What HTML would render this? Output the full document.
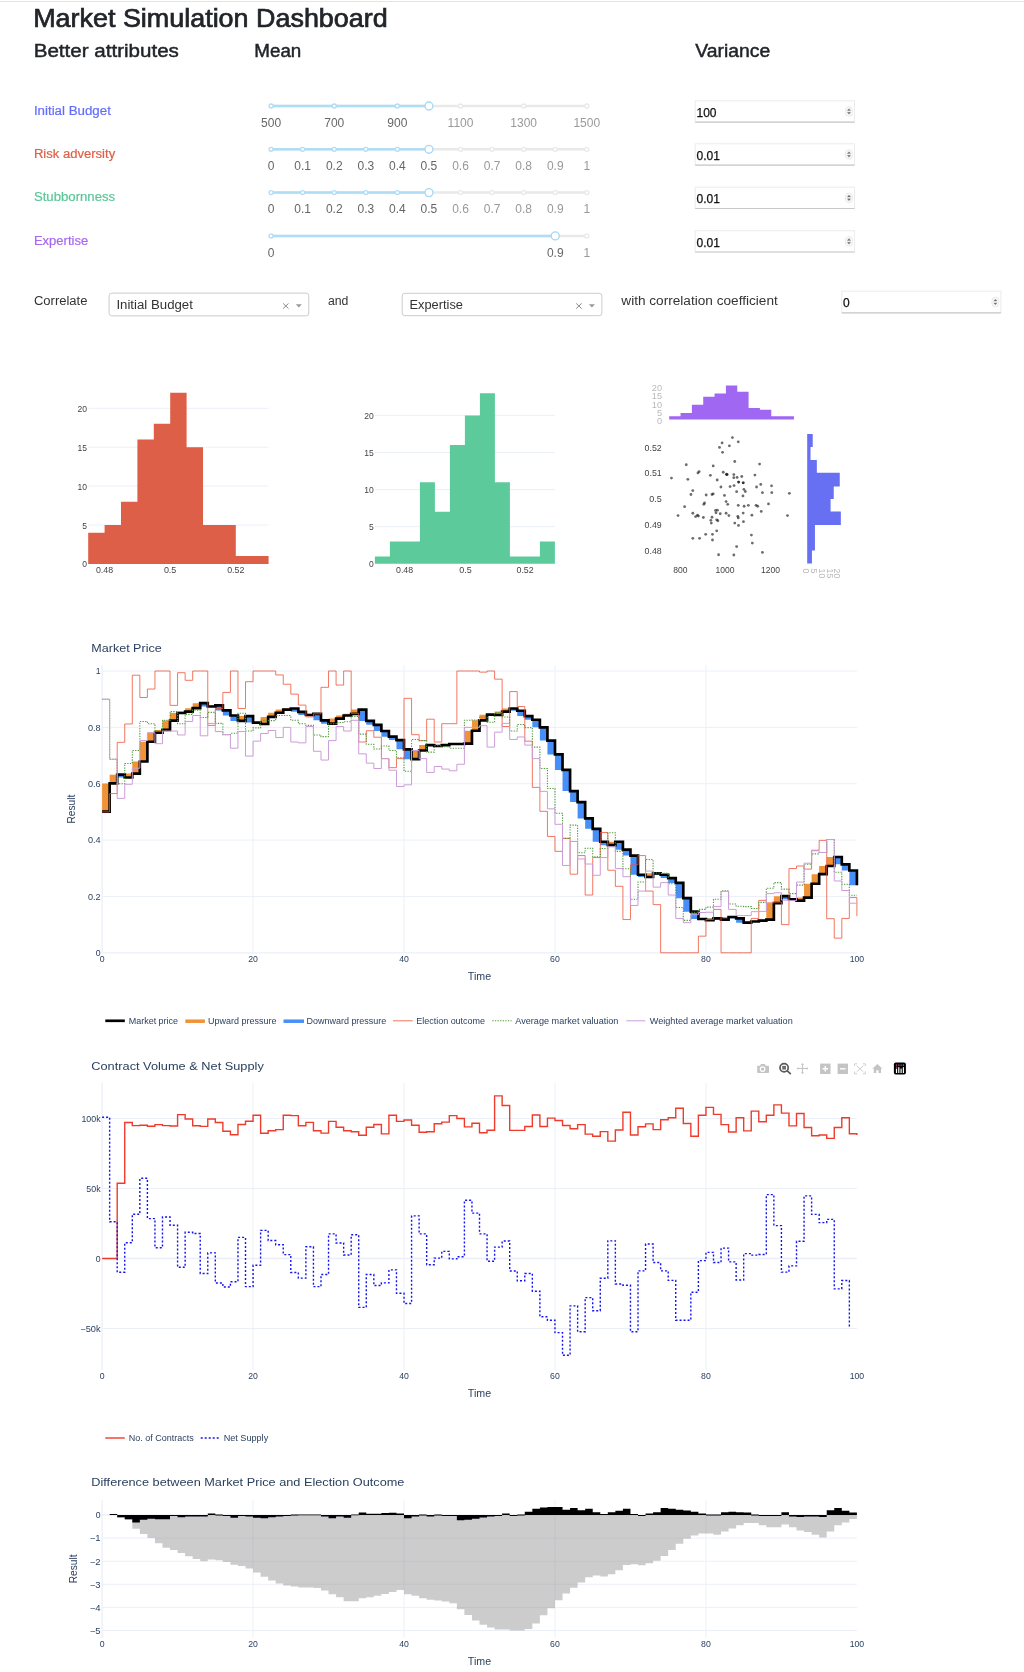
<!DOCTYPE html>
<html><head><meta charset="utf-8"><title>Market Simulation Dashboard</title>
<style>
html,body{margin:0;padding:0;background:#fff;}
body{width:1024px;height:1672px;overflow:hidden;font-family:"Liberation Sans",sans-serif;}
svg{display:block;will-change:transform;font-family:"Liberation Sans",sans-serif;}
</style></head>
<body>
<svg width="1024" height="1672" viewBox="0 0 1024 1672">
<line x1="0" y1="1.5" x2="1024" y2="1.5" stroke="#e4e4e4" stroke-width="1"/>
<text x="33.2" y="26.6" font-size="26" fill="#212529" textLength="354.5" lengthAdjust="spacingAndGlyphs" stroke="#212529" stroke-width="0.7">Market Simulation Dashboard</text>
<text x="33.7" y="56.5" font-size="18" fill="#212529" textLength="145.2" lengthAdjust="spacingAndGlyphs" stroke="#212529" stroke-width="0.45">Better attributes</text>
<text x="254.3" y="56.5" font-size="18" fill="#212529" textLength="47" lengthAdjust="spacingAndGlyphs" stroke="#212529" stroke-width="0.45">Mean</text>
<text x="695.2" y="56.5" font-size="18" fill="#212529" textLength="75" lengthAdjust="spacingAndGlyphs" stroke="#212529" stroke-width="0.45">Variance</text>
<text x="33.9" y="114.6" font-size="12" fill="#636efa" textLength="77" lengthAdjust="spacingAndGlyphs" stroke="#636efa" stroke-width="0.2">Initial Budget</text>
<text x="33.9" y="157.9" font-size="12" fill="#de5f47" textLength="81.3" lengthAdjust="spacingAndGlyphs" stroke="#de5f47" stroke-width="0.2">Risk adversity</text>
<text x="33.9" y="201.3" font-size="12" fill="#5bc799" textLength="81.3" lengthAdjust="spacingAndGlyphs" stroke="#5bc799" stroke-width="0.2">Stubbornness</text>
<text x="33.9" y="245" font-size="12" fill="#a868f0" textLength="54.3" lengthAdjust="spacingAndGlyphs" stroke="#a868f0" stroke-width="0.2">Expertise</text>
<line x1="271.1" y1="106" x2="586.8" y2="106" stroke="#e9e9e9" stroke-width="2.5"/>
<line x1="271.1" y1="106" x2="428.95" y2="106" stroke="#b0ddf6" stroke-width="2.5"/>
<circle cx="271.1" cy="106" r="2" fill="#fff" stroke="#b0ddf6" stroke-width="1.33"/>
<text x="271.1" y="126.7" font-size="12" fill="#666" text-anchor="middle">500</text>
<circle cx="334.24" cy="106" r="2" fill="#fff" stroke="#b0ddf6" stroke-width="1.33"/>
<text x="334.24" y="126.7" font-size="12" fill="#666" text-anchor="middle">700</text>
<circle cx="397.38" cy="106" r="2" fill="#fff" stroke="#b0ddf6" stroke-width="1.33"/>
<text x="397.38" y="126.7" font-size="12" fill="#666" text-anchor="middle">900</text>
<circle cx="460.52" cy="106" r="2" fill="#fff" stroke="#e9e9e9" stroke-width="1.33"/>
<text x="460.52" y="126.7" font-size="12" fill="#999" text-anchor="middle">1100</text>
<circle cx="523.66" cy="106" r="2" fill="#fff" stroke="#e9e9e9" stroke-width="1.33"/>
<text x="523.66" y="126.7" font-size="12" fill="#999" text-anchor="middle">1300</text>
<circle cx="586.8" cy="106" r="2" fill="#fff" stroke="#e9e9e9" stroke-width="1.33"/>
<text x="586.8" y="126.7" font-size="12" fill="#999" text-anchor="middle">1500</text>
<circle cx="428.95" cy="106" r="3.97" fill="#fff" stroke="#a6d9f4" stroke-width="1.33"/>
<line x1="271.1" y1="149.3" x2="586.8" y2="149.3" stroke="#e9e9e9" stroke-width="2.5"/>
<line x1="271.1" y1="149.3" x2="428.95" y2="149.3" stroke="#b0ddf6" stroke-width="2.5"/>
<circle cx="271.1" cy="149.3" r="2" fill="#fff" stroke="#b0ddf6" stroke-width="1.33"/>
<text x="271.1" y="170" font-size="12" fill="#666" text-anchor="middle">0</text>
<circle cx="302.67" cy="149.3" r="2" fill="#fff" stroke="#b0ddf6" stroke-width="1.33"/>
<text x="302.67" y="170" font-size="12" fill="#666" text-anchor="middle">0.1</text>
<circle cx="334.24" cy="149.3" r="2" fill="#fff" stroke="#b0ddf6" stroke-width="1.33"/>
<text x="334.24" y="170" font-size="12" fill="#666" text-anchor="middle">0.2</text>
<circle cx="365.81" cy="149.3" r="2" fill="#fff" stroke="#b0ddf6" stroke-width="1.33"/>
<text x="365.81" y="170" font-size="12" fill="#666" text-anchor="middle">0.3</text>
<circle cx="397.38" cy="149.3" r="2" fill="#fff" stroke="#b0ddf6" stroke-width="1.33"/>
<text x="397.38" y="170" font-size="12" fill="#666" text-anchor="middle">0.4</text>
<text x="428.95" y="170" font-size="12" fill="#666" text-anchor="middle">0.5</text>
<circle cx="460.52" cy="149.3" r="2" fill="#fff" stroke="#e9e9e9" stroke-width="1.33"/>
<text x="460.52" y="170" font-size="12" fill="#999" text-anchor="middle">0.6</text>
<circle cx="492.09" cy="149.3" r="2" fill="#fff" stroke="#e9e9e9" stroke-width="1.33"/>
<text x="492.09" y="170" font-size="12" fill="#999" text-anchor="middle">0.7</text>
<circle cx="523.66" cy="149.3" r="2" fill="#fff" stroke="#e9e9e9" stroke-width="1.33"/>
<text x="523.66" y="170" font-size="12" fill="#999" text-anchor="middle">0.8</text>
<circle cx="555.23" cy="149.3" r="2" fill="#fff" stroke="#e9e9e9" stroke-width="1.33"/>
<text x="555.23" y="170" font-size="12" fill="#999" text-anchor="middle">0.9</text>
<circle cx="586.8" cy="149.3" r="2" fill="#fff" stroke="#e9e9e9" stroke-width="1.33"/>
<text x="586.8" y="170" font-size="12" fill="#999" text-anchor="middle">1</text>
<circle cx="428.95" cy="149.3" r="3.97" fill="#fff" stroke="#a6d9f4" stroke-width="1.33"/>
<line x1="271.1" y1="192.6" x2="586.8" y2="192.6" stroke="#e9e9e9" stroke-width="2.5"/>
<line x1="271.1" y1="192.6" x2="428.95" y2="192.6" stroke="#b0ddf6" stroke-width="2.5"/>
<circle cx="271.1" cy="192.6" r="2" fill="#fff" stroke="#b0ddf6" stroke-width="1.33"/>
<text x="271.1" y="213.3" font-size="12" fill="#666" text-anchor="middle">0</text>
<circle cx="302.67" cy="192.6" r="2" fill="#fff" stroke="#b0ddf6" stroke-width="1.33"/>
<text x="302.67" y="213.3" font-size="12" fill="#666" text-anchor="middle">0.1</text>
<circle cx="334.24" cy="192.6" r="2" fill="#fff" stroke="#b0ddf6" stroke-width="1.33"/>
<text x="334.24" y="213.3" font-size="12" fill="#666" text-anchor="middle">0.2</text>
<circle cx="365.81" cy="192.6" r="2" fill="#fff" stroke="#b0ddf6" stroke-width="1.33"/>
<text x="365.81" y="213.3" font-size="12" fill="#666" text-anchor="middle">0.3</text>
<circle cx="397.38" cy="192.6" r="2" fill="#fff" stroke="#b0ddf6" stroke-width="1.33"/>
<text x="397.38" y="213.3" font-size="12" fill="#666" text-anchor="middle">0.4</text>
<text x="428.95" y="213.3" font-size="12" fill="#666" text-anchor="middle">0.5</text>
<circle cx="460.52" cy="192.6" r="2" fill="#fff" stroke="#e9e9e9" stroke-width="1.33"/>
<text x="460.52" y="213.3" font-size="12" fill="#999" text-anchor="middle">0.6</text>
<circle cx="492.09" cy="192.6" r="2" fill="#fff" stroke="#e9e9e9" stroke-width="1.33"/>
<text x="492.09" y="213.3" font-size="12" fill="#999" text-anchor="middle">0.7</text>
<circle cx="523.66" cy="192.6" r="2" fill="#fff" stroke="#e9e9e9" stroke-width="1.33"/>
<text x="523.66" y="213.3" font-size="12" fill="#999" text-anchor="middle">0.8</text>
<circle cx="555.23" cy="192.6" r="2" fill="#fff" stroke="#e9e9e9" stroke-width="1.33"/>
<text x="555.23" y="213.3" font-size="12" fill="#999" text-anchor="middle">0.9</text>
<circle cx="586.8" cy="192.6" r="2" fill="#fff" stroke="#e9e9e9" stroke-width="1.33"/>
<text x="586.8" y="213.3" font-size="12" fill="#999" text-anchor="middle">1</text>
<circle cx="428.95" cy="192.6" r="3.97" fill="#fff" stroke="#a6d9f4" stroke-width="1.33"/>
<line x1="271.1" y1="235.9" x2="586.8" y2="235.9" stroke="#e9e9e9" stroke-width="2.5"/>
<line x1="271.1" y1="235.9" x2="555.23" y2="235.9" stroke="#b0ddf6" stroke-width="2.5"/>
<circle cx="271.1" cy="235.9" r="2" fill="#fff" stroke="#b0ddf6" stroke-width="1.33"/>
<text x="271.1" y="256.6" font-size="12" fill="#666" text-anchor="middle">0</text>
<text x="555.23" y="256.6" font-size="12" fill="#666" text-anchor="middle">0.9</text>
<circle cx="586.8" cy="235.9" r="2" fill="#fff" stroke="#e9e9e9" stroke-width="1.33"/>
<text x="586.8" y="256.6" font-size="12" fill="#999" text-anchor="middle">1</text>
<circle cx="555.23" cy="235.9" r="3.97" fill="#fff" stroke="#a6d9f4" stroke-width="1.33"/>
<rect x="695.2" y="100.8" width="159.3" height="21.3" fill="#fff" stroke="#ececec" stroke-width="1"/>
<line x1="695.2" y1="122.1" x2="854.5" y2="122.1" stroke="#c9c9c9" stroke-width="1.2"/>
<text x="696.5" y="116.8" font-size="12" fill="#111" stroke="#111" stroke-width="0.25">100</text>
<rect x="845.4" y="106.55" width="7.2" height="9.8" rx="3.6" fill="#f6f6f6" stroke="#e2e2e2" stroke-width="0.6"/>
<path d="M847.4 110.55 L849 108.65 L850.6 110.55 Z M847.4 112.35 L849 114.25 L850.6 112.35 Z" fill="#707070" stroke="#707070" stroke-width="0.3"/>
<rect x="695.2" y="143.8" width="159.3" height="21.3" fill="#fff" stroke="#ececec" stroke-width="1"/>
<line x1="695.2" y1="165.1" x2="854.5" y2="165.1" stroke="#c9c9c9" stroke-width="1.2"/>
<text x="696.5" y="159.8" font-size="12" fill="#111" stroke="#111" stroke-width="0.25">0.01</text>
<rect x="845.4" y="149.55" width="7.2" height="9.8" rx="3.6" fill="#f6f6f6" stroke="#e2e2e2" stroke-width="0.6"/>
<path d="M847.4 153.55 L849 151.65 L850.6 153.55 Z M847.4 155.35 L849 157.25 L850.6 155.35 Z" fill="#707070" stroke="#707070" stroke-width="0.3"/>
<rect x="695.2" y="187.2" width="159.3" height="21.3" fill="#fff" stroke="#ececec" stroke-width="1"/>
<line x1="695.2" y1="208.5" x2="854.5" y2="208.5" stroke="#c9c9c9" stroke-width="1.2"/>
<text x="696.5" y="203.2" font-size="12" fill="#111" stroke="#111" stroke-width="0.25">0.01</text>
<rect x="845.4" y="192.95" width="7.2" height="9.8" rx="3.6" fill="#f6f6f6" stroke="#e2e2e2" stroke-width="0.6"/>
<path d="M847.4 196.95 L849 195.05 L850.6 196.95 Z M847.4 198.75 L849 200.65 L850.6 198.75 Z" fill="#707070" stroke="#707070" stroke-width="0.3"/>
<rect x="695.2" y="230.7" width="159.3" height="21.3" fill="#fff" stroke="#ececec" stroke-width="1"/>
<line x1="695.2" y1="252" x2="854.5" y2="252" stroke="#c9c9c9" stroke-width="1.2"/>
<text x="696.5" y="246.7" font-size="12" fill="#111" stroke="#111" stroke-width="0.25">0.01</text>
<rect x="845.4" y="236.45" width="7.2" height="9.8" rx="3.6" fill="#f6f6f6" stroke="#e2e2e2" stroke-width="0.6"/>
<path d="M847.4 240.45 L849 238.55 L850.6 240.45 Z M847.4 242.25 L849 244.15 L850.6 242.25 Z" fill="#707070" stroke="#707070" stroke-width="0.3"/>
<text x="33.9" y="305.3" font-size="12" fill="#333" textLength="53.6" lengthAdjust="spacingAndGlyphs">Correlate</text>
<text x="327.9" y="305.3" font-size="12" fill="#333" textLength="20.5" lengthAdjust="spacingAndGlyphs">and</text>
<text x="621.3" y="305.3" font-size="12" fill="#333" textLength="156.5" lengthAdjust="spacingAndGlyphs">with correlation coefficient</text>
<rect x="109.1" y="293.1" width="199.7" height="22.8" rx="2.7" fill="#fff" stroke="#cccccc" stroke-width="1"/>
<text x="116.4" y="308.9" font-size="12" fill="#333" textLength="76.5" lengthAdjust="spacingAndGlyphs">Initial Budget</text>
<path d="M283.1 303.4 L288.5 308.6 M288.5 303.4 L283.1 308.6" stroke="#8a8a8a" stroke-width="1" fill="none"/>
<path d="M295.8 304.2 L301.8 304.2 L298.8 307.4 Z" fill="#999"/>
<rect x="402.2" y="293.3" width="199.7" height="22.4" rx="2.7" fill="#fff" stroke="#cccccc" stroke-width="1"/>
<text x="409.5" y="309.1" font-size="12" fill="#333" textLength="53.5" lengthAdjust="spacingAndGlyphs">Expertise</text>
<path d="M576.2 303.4 L581.6 308.6 M581.6 303.4 L576.2 308.6" stroke="#8a8a8a" stroke-width="1" fill="none"/>
<path d="M588.9 304.2 L594.9 304.2 L591.9 307.4 Z" fill="#999"/>
<rect x="841.8" y="291.2" width="159.1" height="21.6" fill="#fff" stroke="#ececec" stroke-width="1"/>
<line x1="841.8" y1="312.8" x2="1000.9" y2="312.8" stroke="#c9c9c9" stroke-width="1.2"/>
<text x="843.1" y="307.2" font-size="12" fill="#111" stroke="#111" stroke-width="0.25">0</text>
<rect x="991.8" y="297.1" width="7.2" height="9.8" rx="3.6" fill="#f6f6f6" stroke="#e2e2e2" stroke-width="0.6"/>
<path d="M993.8 301.1 L995.4 299.2 L997 301.1 Z M993.8 302.9 L995.4 304.8 L997 302.9 Z" fill="#707070" stroke="#707070" stroke-width="0.3"/>
<line x1="88.2" y1="525" x2="268.6" y2="525" stroke="#ebf0f8" stroke-width="1"/>
<line x1="88.2" y1="486.1" x2="268.6" y2="486.1" stroke="#ebf0f8" stroke-width="1"/>
<line x1="88.2" y1="447.2" x2="268.6" y2="447.2" stroke="#ebf0f8" stroke-width="1"/>
<line x1="88.2" y1="408.3" x2="268.6" y2="408.3" stroke="#ebf0f8" stroke-width="1"/>
<path d="M88.2 563.9 V532.78 H104.6 V525 H121 V501.66 H137.4 V439.42 H153.8 V423.86 H170.2 V392.74 H186.6 V447.2 H203 V525 H219.4 V525 H235.8 V556.12 H252.2 V556.12 H268.6 V563.9 Z" fill="#de5f47"/>
<text x="87" y="567.4" font-size="9" fill="#444" text-anchor="end" textLength="4.75" lengthAdjust="spacingAndGlyphs">0</text>
<text x="87" y="528.5" font-size="9" fill="#444" text-anchor="end" textLength="4.75" lengthAdjust="spacingAndGlyphs">5</text>
<text x="87" y="489.6" font-size="9" fill="#444" text-anchor="end" textLength="9.51" lengthAdjust="spacingAndGlyphs">10</text>
<text x="87" y="450.7" font-size="9" fill="#444" text-anchor="end" textLength="9.51" lengthAdjust="spacingAndGlyphs">15</text>
<text x="87" y="411.8" font-size="9" fill="#444" text-anchor="end" textLength="9.51" lengthAdjust="spacingAndGlyphs">20</text>
<text x="104.5" y="573" font-size="9" fill="#444" text-anchor="middle" textLength="17.2" lengthAdjust="spacingAndGlyphs">0.48</text>
<text x="170.1" y="573" font-size="9" fill="#444" text-anchor="middle" textLength="12.45" lengthAdjust="spacingAndGlyphs">0.5</text>
<text x="235.8" y="573" font-size="9" fill="#444" text-anchor="middle" textLength="17.2" lengthAdjust="spacingAndGlyphs">0.52</text>
<line x1="374.9" y1="526.7" x2="554.9" y2="526.7" stroke="#ebf0f8" stroke-width="1"/>
<line x1="374.9" y1="489.6" x2="554.9" y2="489.6" stroke="#ebf0f8" stroke-width="1"/>
<line x1="374.9" y1="452.5" x2="554.9" y2="452.5" stroke="#ebf0f8" stroke-width="1"/>
<line x1="374.9" y1="415.4" x2="554.9" y2="415.4" stroke="#ebf0f8" stroke-width="1"/>
<path d="M374.9 563.8 V556.38 H389.9 V541.54 H404.9 V541.54 H419.9 V482.18 H434.9 V511.86 H449.9 V445.08 H464.9 V415.4 H479.9 V393.14 H494.9 V482.18 H509.9 V556.38 H524.9 V556.38 H539.9 V541.54 H554.9 V563.8 Z" fill="#5dca9c"/>
<text x="373.8" y="567.3" font-size="9" fill="#444" text-anchor="end" textLength="4.75" lengthAdjust="spacingAndGlyphs">0</text>
<text x="373.8" y="530.2" font-size="9" fill="#444" text-anchor="end" textLength="4.75" lengthAdjust="spacingAndGlyphs">5</text>
<text x="373.8" y="493.1" font-size="9" fill="#444" text-anchor="end" textLength="9.51" lengthAdjust="spacingAndGlyphs">10</text>
<text x="373.8" y="456" font-size="9" fill="#444" text-anchor="end" textLength="9.51" lengthAdjust="spacingAndGlyphs">15</text>
<text x="373.8" y="418.9" font-size="9" fill="#444" text-anchor="end" textLength="9.51" lengthAdjust="spacingAndGlyphs">20</text>
<text x="404.6" y="573" font-size="9" fill="#444" text-anchor="middle" textLength="17.2" lengthAdjust="spacingAndGlyphs">0.48</text>
<text x="465.4" y="573" font-size="9" fill="#444" text-anchor="middle" textLength="12.45" lengthAdjust="spacingAndGlyphs">0.5</text>
<text x="525.1" y="573" font-size="9" fill="#444" text-anchor="middle" textLength="17.2" lengthAdjust="spacingAndGlyphs">0.52</text>
<path d="M669.2 419.4 V416.16 H680.54 V412.92 H691.88 V404.82 H703.22 V396.72 H714.56 V393.48 H725.9 V385.38 H737.24 V391.86 H748.58 V408.06 H759.92 V409.68 H771.26 V416.16 H782.6 V416.16 H793.94 V419.4 Z" fill="#a068f2"/>
<text x="662" y="423.7" font-size="9.2" fill="#bababa" text-anchor="end">0</text>
<text x="662" y="415.6" font-size="9.2" fill="#bababa" text-anchor="end">5</text>
<text x="662" y="407.5" font-size="9.2" fill="#bababa" text-anchor="end">10</text>
<text x="662" y="399.4" font-size="9.2" fill="#bababa" text-anchor="end">15</text>
<text x="662" y="391.3" font-size="9.2" fill="#bababa" text-anchor="end">20</text>
<path d="M807.2 434.1 H812.73 V447 H810.52 V459.9 H816.84 V472.8 H839.75 V486.5 H833.74 V499 H830.58 V511.6 H840.85 V525 H814.94 V537.7 H814.94 V550.4 H811.94 V563.6 H807.2 Z" fill="#676ff2"/>
<text transform="translate(802.8,568.6) rotate(90)" font-size="8.7" fill="#b9b9b9">0</text>
<text transform="translate(810.7,568.6) rotate(90)" font-size="8.7" fill="#b9b9b9">5</text>
<text transform="translate(818.6,568.6) rotate(90)" font-size="8.7" fill="#b9b9b9">10</text>
<text transform="translate(826.5,568.6) rotate(90)" font-size="8.7" fill="#b9b9b9">15</text>
<text transform="translate(834.4,568.6) rotate(90)" font-size="8.7" fill="#b9b9b9">20</text>
<circle cx="732.41" cy="437.57" r="1.4" fill="#111" fill-opacity="0.62"/>
<circle cx="738.27" cy="441.79" r="1.4" fill="#111" fill-opacity="0.62"/>
<circle cx="722.1" cy="442.96" r="1.4" fill="#111" fill-opacity="0.62"/>
<circle cx="719.52" cy="447.42" r="1.4" fill="#111" fill-opacity="0.62"/>
<circle cx="729.37" cy="445.78" r="1.4" fill="#111" fill-opacity="0.62"/>
<circle cx="722.57" cy="452.34" r="1.4" fill="#111" fill-opacity="0.62"/>
<circle cx="734.76" cy="461.48" r="1.4" fill="#111" fill-opacity="0.62"/>
<circle cx="686.25" cy="464.76" r="1.4" fill="#111" fill-opacity="0.62"/>
<circle cx="713.2" cy="465.93" r="1.4" fill="#111" fill-opacity="0.62"/>
<circle cx="759.6" cy="464.06" r="1.4" fill="#111" fill-opacity="0.62"/>
<circle cx="671.48" cy="478.12" r="1.4" fill="#111" fill-opacity="0.62"/>
<circle cx="687.89" cy="479.29" r="1.4" fill="#111" fill-opacity="0.62"/>
<circle cx="697.96" cy="472.96" r="1.4" fill="#111" fill-opacity="0.62"/>
<circle cx="699.14" cy="471.55" r="1.4" fill="#111" fill-opacity="0.62"/>
<circle cx="710.38" cy="475.3" r="1.4" fill="#111" fill-opacity="0.62"/>
<circle cx="717.18" cy="479.99" r="1.4" fill="#111" fill-opacity="0.62"/>
<circle cx="723.27" cy="472.26" r="1.4" fill="#111" fill-opacity="0.62"/>
<circle cx="726.55" cy="474.13" r="1.4" fill="#111" fill-opacity="0.62"/>
<circle cx="727.26" cy="474.6" r="1.4" fill="#111" fill-opacity="0.62"/>
<circle cx="733.82" cy="474.6" r="1.4" fill="#111" fill-opacity="0.62"/>
<circle cx="733.82" cy="477.65" r="1.4" fill="#111" fill-opacity="0.62"/>
<circle cx="737.1" cy="477.41" r="1.4" fill="#111" fill-opacity="0.62"/>
<circle cx="741.79" cy="476.48" r="1.4" fill="#111" fill-opacity="0.62"/>
<circle cx="754.91" cy="475.07" r="1.4" fill="#111" fill-opacity="0.62"/>
<circle cx="738.74" cy="482.1" r="1.4" fill="#111" fill-opacity="0.62"/>
<circle cx="743.19" cy="482.8" r="1.4" fill="#111" fill-opacity="0.62"/>
<circle cx="720.93" cy="487.02" r="1.4" fill="#111" fill-opacity="0.62"/>
<circle cx="730.07" cy="486.55" r="1.4" fill="#111" fill-opacity="0.62"/>
<circle cx="734.05" cy="485.62" r="1.4" fill="#111" fill-opacity="0.62"/>
<circle cx="760.77" cy="484.44" r="1.4" fill="#111" fill-opacity="0.62"/>
<circle cx="756.55" cy="487.02" r="1.4" fill="#111" fill-opacity="0.62"/>
<circle cx="771.55" cy="485.85" r="1.4" fill="#111" fill-opacity="0.62"/>
<circle cx="692.81" cy="490.54" r="1.4" fill="#111" fill-opacity="0.62"/>
<circle cx="690.93" cy="494.52" r="1.4" fill="#111" fill-opacity="0.62"/>
<circle cx="706.17" cy="494.99" r="1.4" fill="#111" fill-opacity="0.62"/>
<circle cx="712.02" cy="494.52" r="1.4" fill="#111" fill-opacity="0.62"/>
<circle cx="713.2" cy="493.82" r="1.4" fill="#111" fill-opacity="0.62"/>
<circle cx="724.45" cy="495.46" r="1.4" fill="#111" fill-opacity="0.62"/>
<circle cx="736.63" cy="491.71" r="1.4" fill="#111" fill-opacity="0.62"/>
<circle cx="743.9" cy="489.37" r="1.4" fill="#111" fill-opacity="0.62"/>
<circle cx="745.3" cy="491.48" r="1.4" fill="#111" fill-opacity="0.62"/>
<circle cx="742.96" cy="495.93" r="1.4" fill="#111" fill-opacity="0.62"/>
<circle cx="762.41" cy="492.65" r="1.4" fill="#111" fill-opacity="0.62"/>
<circle cx="771.79" cy="492.65" r="1.4" fill="#111" fill-opacity="0.62"/>
<circle cx="789.36" cy="493.35" r="1.4" fill="#111" fill-opacity="0.62"/>
<circle cx="684.61" cy="506.71" r="1.4" fill="#111" fill-opacity="0.62"/>
<circle cx="703.82" cy="504.36" r="1.4" fill="#111" fill-opacity="0.62"/>
<circle cx="704.53" cy="502.96" r="1.4" fill="#111" fill-opacity="0.62"/>
<circle cx="726.09" cy="501.55" r="1.4" fill="#111" fill-opacity="0.62"/>
<circle cx="727.73" cy="504.36" r="1.4" fill="#111" fill-opacity="0.62"/>
<circle cx="738.27" cy="505.3" r="1.4" fill="#111" fill-opacity="0.62"/>
<circle cx="744.13" cy="506.24" r="1.4" fill="#111" fill-opacity="0.62"/>
<circle cx="748.35" cy="505.3" r="1.4" fill="#111" fill-opacity="0.62"/>
<circle cx="756.08" cy="505.3" r="1.4" fill="#111" fill-opacity="0.62"/>
<circle cx="757.72" cy="506.24" r="1.4" fill="#111" fill-opacity="0.62"/>
<circle cx="768.5" cy="503.9" r="1.4" fill="#111" fill-opacity="0.62"/>
<circle cx="678.04" cy="515.61" r="1.4" fill="#111" fill-opacity="0.62"/>
<circle cx="692.81" cy="513.27" r="1.4" fill="#111" fill-opacity="0.62"/>
<circle cx="695.62" cy="516.55" r="1.4" fill="#111" fill-opacity="0.62"/>
<circle cx="697.49" cy="515.15" r="1.4" fill="#111" fill-opacity="0.62"/>
<circle cx="698.43" cy="516.08" r="1.4" fill="#111" fill-opacity="0.62"/>
<circle cx="703.35" cy="517.49" r="1.4" fill="#111" fill-opacity="0.62"/>
<circle cx="712.02" cy="517.25" r="1.4" fill="#111" fill-opacity="0.62"/>
<circle cx="715.54" cy="510.46" r="1.4" fill="#111" fill-opacity="0.62"/>
<circle cx="717.42" cy="510.22" r="1.4" fill="#111" fill-opacity="0.62"/>
<circle cx="716.01" cy="512.8" r="1.4" fill="#111" fill-opacity="0.62"/>
<circle cx="720.23" cy="513.74" r="1.4" fill="#111" fill-opacity="0.62"/>
<circle cx="726.09" cy="513.27" r="1.4" fill="#111" fill-opacity="0.62"/>
<circle cx="728.9" cy="515.61" r="1.4" fill="#111" fill-opacity="0.62"/>
<circle cx="737.8" cy="516.32" r="1.4" fill="#111" fill-opacity="0.62"/>
<circle cx="738.27" cy="517.96" r="1.4" fill="#111" fill-opacity="0.62"/>
<circle cx="743.19" cy="513.04" r="1.4" fill="#111" fill-opacity="0.62"/>
<circle cx="751.87" cy="515.15" r="1.4" fill="#111" fill-opacity="0.62"/>
<circle cx="761.24" cy="511.4" r="1.4" fill="#111" fill-opacity="0.62"/>
<circle cx="787.49" cy="515.61" r="1.4" fill="#111" fill-opacity="0.62"/>
<circle cx="710.85" cy="520.3" r="1.4" fill="#111" fill-opacity="0.62"/>
<circle cx="711.32" cy="523.11" r="1.4" fill="#111" fill-opacity="0.62"/>
<circle cx="716.71" cy="519.83" r="1.4" fill="#111" fill-opacity="0.62"/>
<circle cx="717.88" cy="520.77" r="1.4" fill="#111" fill-opacity="0.62"/>
<circle cx="734.76" cy="523.11" r="1.4" fill="#111" fill-opacity="0.62"/>
<circle cx="738.51" cy="525.46" r="1.4" fill="#111" fill-opacity="0.62"/>
<circle cx="743.43" cy="521.71" r="1.4" fill="#111" fill-opacity="0.62"/>
<circle cx="716.71" cy="530.85" r="1.4" fill="#111" fill-opacity="0.62"/>
<circle cx="705.7" cy="534.36" r="1.4" fill="#111" fill-opacity="0.62"/>
<circle cx="712.49" cy="534.36" r="1.4" fill="#111" fill-opacity="0.62"/>
<circle cx="692.81" cy="538.35" r="1.4" fill="#111" fill-opacity="0.62"/>
<circle cx="699.6" cy="538.35" r="1.4" fill="#111" fill-opacity="0.62"/>
<circle cx="712.49" cy="539.99" r="1.4" fill="#111" fill-opacity="0.62"/>
<circle cx="751.4" cy="535.07" r="1.4" fill="#111" fill-opacity="0.62"/>
<circle cx="752.33" cy="543.03" r="1.4" fill="#111" fill-opacity="0.62"/>
<circle cx="736.63" cy="546.55" r="1.4" fill="#111" fill-opacity="0.62"/>
<circle cx="718.59" cy="554.75" r="1.4" fill="#111" fill-opacity="0.62"/>
<circle cx="733.82" cy="554.99" r="1.4" fill="#111" fill-opacity="0.62"/>
<circle cx="762.41" cy="552.41" r="1.4" fill="#111" fill-opacity="0.62"/>
<circle cx="726.55" cy="474.6" r="1.4" fill="#111" fill-opacity="0.62"/>
<circle cx="738.51" cy="482.1" r="1.4" fill="#111" fill-opacity="0.62"/>
<circle cx="743.19" cy="482.8" r="1.4" fill="#111" fill-opacity="0.62"/>
<text x="661.8" y="450.9" font-size="8.6" fill="#444" text-anchor="end" textLength="17.2" lengthAdjust="spacingAndGlyphs">0.52</text>
<text x="661.8" y="476.3" font-size="8.6" fill="#444" text-anchor="end" textLength="17.2" lengthAdjust="spacingAndGlyphs">0.51</text>
<text x="661.8" y="502" font-size="8.6" fill="#444" text-anchor="end" textLength="12.45" lengthAdjust="spacingAndGlyphs">0.5</text>
<text x="661.8" y="527.8" font-size="8.6" fill="#444" text-anchor="end" textLength="17.2" lengthAdjust="spacingAndGlyphs">0.49</text>
<text x="661.8" y="554.1" font-size="8.6" fill="#444" text-anchor="end" textLength="17.2" lengthAdjust="spacingAndGlyphs">0.48</text>
<text x="680.4" y="573" font-size="8.6" fill="#444" text-anchor="middle" textLength="14.26" lengthAdjust="spacingAndGlyphs">800</text>
<text x="724.9" y="573" font-size="8.6" fill="#444" text-anchor="middle" textLength="19.01" lengthAdjust="spacingAndGlyphs">1000</text>
<text x="770.6" y="573" font-size="8.6" fill="#444" text-anchor="middle" textLength="19.01" lengthAdjust="spacingAndGlyphs">1200</text>
<line x1="253.06" y1="665.4" x2="253.06" y2="952.8" stroke="#ebf0f8" stroke-width="1"/>
<line x1="404.02" y1="665.4" x2="404.02" y2="952.8" stroke="#ebf0f8" stroke-width="1"/>
<line x1="554.98" y1="665.4" x2="554.98" y2="952.8" stroke="#ebf0f8" stroke-width="1"/>
<line x1="705.94" y1="665.4" x2="705.94" y2="952.8" stroke="#ebf0f8" stroke-width="1"/>
<line x1="102.1" y1="952.8" x2="856.9" y2="952.8" stroke="#ebf0f8" stroke-width="1.33"/>
<line x1="102.1" y1="896.44" x2="856.9" y2="896.44" stroke="#ebf0f8" stroke-width="1"/>
<line x1="102.1" y1="840.08" x2="856.9" y2="840.08" stroke="#ebf0f8" stroke-width="1"/>
<line x1="102.1" y1="783.72" x2="856.9" y2="783.72" stroke="#ebf0f8" stroke-width="1"/>
<line x1="102.1" y1="727.36" x2="856.9" y2="727.36" stroke="#ebf0f8" stroke-width="1"/>
<line x1="102.1" y1="671" x2="856.9" y2="671" stroke="#ebf0f8" stroke-width="1"/>
<line x1="102.1" y1="665.4" x2="102.1" y2="952.8" stroke="#ebf0f8" stroke-width="1.33"/>
<clipPath id="c1"><rect x="101" y="660" width="758" height="296"/></clipPath>
<g clip-path="url(#c1)">
<path d="M102.1 783.44 H109.65 V811.62 H102.1 Z M109.65 774.7 H117.2 V783.44 H109.65 Z M124.74 773.58 H132.29 V777.52 H124.74 Z M132.29 761.46 H139.84 V773.58 H132.29 Z M139.84 741.73 H147.39 V761.46 H139.84 Z M147.39 732.71 H154.94 V741.73 H147.39 Z M154.94 729.9 H162.48 V732.71 H154.94 Z M162.48 720.6 H170.03 V729.9 H162.48 Z M170.03 712.99 H177.58 V720.6 H170.03 Z M177.58 711.58 H185.13 V712.99 H177.58 Z M185.13 708.2 H192.68 V711.58 H185.13 Z M192.68 703.13 H200.22 V708.2 H192.68 Z M207.77 705.38 H215.32 V706.51 H207.77 Z M237.96 716.09 H245.51 V720.88 H237.96 Z M260.61 716.93 H268.16 V723.98 H260.61 Z M268.16 712.71 H275.7 V716.93 H268.16 Z M275.7 709.61 H283.25 V712.71 H275.7 Z M283.25 708.48 H290.8 V709.61 H283.25 Z M305.9 713.83 H313.44 V714.96 H305.9 Z M328.54 718.62 H336.09 V723.7 H328.54 Z M336.09 715.52 H343.64 V718.62 H336.09 Z M343.64 713.83 H351.18 V715.52 H343.64 Z M351.18 709.61 H358.73 V713.83 H351.18 Z M411.57 750.47 H419.12 V759.2 H411.57 Z M419.12 745.11 H426.66 V750.47 H419.12 Z M434.21 745.11 H441.76 V745.96 H434.21 Z M441.76 743.99 H449.31 V745.11 H441.76 Z M456.86 743.7 H464.4 V743.99 H456.86 Z M464.4 730.74 H471.95 V743.7 H464.4 Z M471.95 720.31 H479.5 V730.74 H471.95 Z M479.5 714.68 H487.05 V720.31 H479.5 Z M494.6 711.58 H502.14 V714.96 H494.6 Z M502.14 708.48 H509.69 V711.58 H502.14 Z M607.82 841.77 H615.36 V845.15 H607.82 Z M645.56 873.33 H653.1 V877 H645.56 Z M705.94 918.42 H713.49 V920.11 H705.94 Z M721.04 917.01 H728.58 V919.55 H721.04 Z M743.68 921.52 H751.23 V922.65 H743.68 Z M751.23 920.67 H758.78 V921.52 H751.23 Z M758.78 919.55 H766.32 V920.67 H758.78 Z M766.32 903.2 H773.87 V919.55 H766.32 Z M773.87 896.16 H781.42 V903.2 H773.87 Z M796.52 897.57 H804.06 V900.67 H796.52 Z M804.06 883.76 H811.61 V897.57 H804.06 Z M811.61 874.18 H819.16 V883.76 H811.61 Z M819.16 866.01 H826.71 V874.18 H819.16 Z M826.71 856.99 H834.26 V866.01 H826.71 Z " fill="#f09235"/>
<path d="M117.2 774.7 H124.74 V777.52 H117.2 Z M200.22 703.13 H207.77 V706.51 H200.22 Z M215.32 705.38 H222.87 V710.45 H215.32 Z M222.87 710.45 H230.42 V715.52 H222.87 Z M230.42 715.52 H237.96 V720.88 H230.42 Z M245.51 716.09 H253.06 V722.57 H245.51 Z M253.06 722.57 H260.61 V723.98 H253.06 Z M290.8 708.48 H298.35 V711.86 H290.8 Z M298.35 711.86 H305.9 V714.96 H298.35 Z M313.44 713.83 H320.99 V720.31 H313.44 Z M320.99 720.31 H328.54 V723.7 H320.99 Z M358.73 709.61 H366.28 V720.88 H358.73 Z M366.28 720.88 H373.83 V724.82 H366.28 Z M373.83 724.82 H381.38 V731.02 H373.83 Z M381.38 731.02 H388.92 V736.66 H381.38 Z M388.92 736.66 H396.47 V740.04 H388.92 Z M396.47 740.04 H404.02 V749.34 H396.47 Z M404.02 749.34 H411.57 V759.2 H404.02 Z M426.66 745.11 H434.21 V745.96 H426.66 Z M487.05 714.68 H494.6 V714.96 H487.05 Z M509.69 708.48 H517.24 V710.73 H509.69 Z M517.24 710.73 H524.79 V716.09 H517.24 Z M524.79 716.09 H532.34 V719.75 H524.79 Z M532.34 719.75 H539.88 V727.36 H532.34 Z M539.88 727.36 H547.43 V740.6 H539.88 Z M547.43 740.6 H554.98 V754.41 H547.43 Z M554.98 754.41 H562.53 V769.91 H554.98 Z M562.53 769.91 H570.08 V791.05 H562.53 Z M570.08 791.05 H577.62 V802.04 H570.08 Z M577.62 802.04 H585.17 V818.38 H577.62 Z M585.17 818.38 H592.72 V828.81 H585.17 Z M592.72 828.81 H600.27 V841.77 H592.72 Z M600.27 841.77 H607.82 V845.15 H600.27 Z M615.36 841.77 H622.91 V849.66 H615.36 Z M622.91 849.66 H630.46 V855.58 H622.91 Z M630.46 855.58 H638.01 V874.74 H630.46 Z M638.01 874.74 H645.56 V877 H638.01 Z M653.1 873.33 H660.65 V874.74 H653.1 Z M660.65 874.74 H668.2 V878.12 H660.65 Z M668.2 878.12 H675.75 V882.91 H668.2 Z M675.75 882.91 H683.3 V898.13 H675.75 Z M683.3 898.13 H690.84 V911.66 H683.3 Z M690.84 911.66 H698.39 V918.98 H690.84 Z M698.39 918.98 H705.94 V920.11 H698.39 Z M713.49 918.42 H721.04 V919.55 H713.49 Z M728.58 917.01 H736.13 V918.42 H728.58 Z M736.13 918.42 H743.68 V922.65 H736.13 Z M781.42 896.16 H788.97 V899.26 H781.42 Z M788.97 899.26 H796.52 V900.67 H788.97 Z M834.26 856.99 H841.8 V864.31 H834.26 Z M841.8 864.31 H849.35 V870.51 H841.8 Z M849.35 870.51 H856.9 V885.17 H849.35 Z " fill="#468ef8"/>
<path d="M102.1 811.62 H109.65 V783.44 H117.2 V774.7 H124.74 V777.52 H132.29 V773.58 H139.84 V761.46 H147.39 V741.73 H154.94 V732.71 H162.48 V729.9 H170.03 V720.6 H177.58 V712.99 H185.13 V711.58 H192.68 V708.2 H200.22 V703.13 H207.77 V706.51 H215.32 V705.38 H222.87 V710.45 H230.42 V715.52 H237.96 V720.88 H245.51 V716.09 H253.06 V722.57 H260.61 V723.98 H268.16 V716.93 H275.7 V712.71 H283.25 V709.61 H290.8 V708.48 H298.35 V711.86 H305.9 V714.96 H313.44 V713.83 H320.99 V720.31 H328.54 V723.7 H336.09 V718.62 H343.64 V715.52 H351.18 V713.83 H358.73 V709.61 H366.28 V720.88 H373.83 V724.82 H381.38 V731.02 H388.92 V736.66 H396.47 V740.04 H404.02 V749.34 H411.57 V759.2 H419.12 V750.47 H426.66 V745.11 H434.21 V745.96 H441.76 V745.11 H449.31 V743.99 H456.86 V743.99 H464.4 V743.7 H471.95 V730.74 H479.5 V720.31 H487.05 V714.68 H494.6 V714.96 H502.14 V711.58 H509.69 V708.48 H517.24 V710.73 H524.79 V716.09 H532.34 V719.75 H539.88 V727.36 H547.43 V740.6 H554.98 V754.41 H562.53 V769.91 H570.08 V791.05 H577.62 V802.04 H585.17 V818.38 H592.72 V828.81 H600.27 V841.77 H607.82 V845.15 H615.36 V841.77 H622.91 V849.66 H630.46 V855.58 H638.01 V874.74 H645.56 V877 H653.1 V873.33 H660.65 V874.74 H668.2 V878.12 H675.75 V882.91 H683.3 V898.13 H690.84 V911.66 H698.39 V918.98 H705.94 V920.11 H713.49 V918.42 H721.04 V919.55 H728.58 V917.01 H736.13 V918.42 H743.68 V922.65 H751.23 V921.52 H758.78 V920.67 H766.32 V919.55 H773.87 V903.2 H781.42 V896.16 H788.97 V899.26 H796.52 V900.67 H804.06 V897.57 H811.61 V883.76 H819.16 V874.18 H826.71 V866.01 H834.26 V856.99 H841.8 V864.31 H849.35 V870.51 H856.9 V885.17" fill="none" stroke="#000" stroke-width="2.67" stroke-linejoin="miter"/>
<path d="M102.1 811.9 H109.65 V793.58 H117.2 V742.3 H124.74 V723.98 H132.29 V675.23 H139.84 V697.49 H147.39 V689.04 H154.94 V671 H162.48 V671 H170.03 V705.38 H177.58 V672.69 H185.13 V680.3 H192.68 V671 H200.22 V671 H207.77 V725.39 H215.32 V708.48 H222.87 V692.42 H230.42 V671 H237.96 V708.48 H245.51 V681.71 H253.06 V671 H260.61 V671 H268.16 V671 H275.7 V674.95 H283.25 V684.24 H290.8 V694.11 H298.35 V705.1 H305.9 V716.93 H313.44 V713.83 H320.99 V687.34 H328.54 V671 H336.09 V685.09 H343.64 V671 H351.18 V713.27 H358.73 V742.01 H366.28 V730.74 H373.83 V737.22 H381.38 V758.64 H388.92 V767.66 H396.47 V758.64 H404.02 V698.33 H411.57 V734.69 H419.12 V740.6 H426.66 V719.19 H434.21 V742.01 H441.76 V723.7 H449.31 V723.7 H456.86 V671 H464.4 V671 H471.95 V671 H479.5 V672.13 H487.05 V671 H494.6 V679.17 H502.14 V726.51 H509.69 V691.57 H517.24 V706.51 H524.79 V741.17 H532.34 V787.38 H539.88 V811.34 H547.43 V836.42 H554.98 V851.35 H562.53 V838.39 H570.08 V874.18 H577.62 V855.58 H585.17 V895.03 H592.72 V857.55 H600.27 V832.47 H607.82 V870.23 H615.36 V886.3 H622.91 V919.55 H630.46 V864.88 H638.01 V855.58 H645.56 V891.09 H653.1 V904.61 H660.65 V952.8 H668.2 V952.8 H675.75 V952.8 H683.3 V952.8 H690.84 V952.8 H698.39 V936.17 H705.94 V919.55 H713.49 V909.4 H721.04 V952.8 H728.58 V952.8 H736.13 V952.8 H743.68 V952.8 H751.23 V918.42 H758.78 V900.39 H766.32 V902.92 H773.87 V902.08 H781.42 V924.62 H788.97 V868.54 H796.52 V866.01 H804.06 V869.11 H811.61 V850.22 H819.16 V840.36 H826.71 V918.7 H834.26 V938.15 H841.8 V918.42 H849.35 V897.57 H856.9 V916.17" fill="none" stroke="#ef553b" stroke-opacity="0.8" stroke-width="1"/>
<path d="M102.1 699.18 H109.65 V759.2 H117.2 V783.72 H124.74 V763.43 H132.29 V750.47 H139.84 V721.44 H147.39 V723.7 H154.94 V731.02 H162.48 V720.31 H170.03 V711.58 H177.58 V723.7 H185.13 V714.4 H192.68 V710.17 H200.22 V717.5 H207.77 V712.42 H215.32 V723.41 H222.87 V734.69 H230.42 V733.28 H237.96 V713.27 H245.51 V731.02 H253.06 V727.92 H260.61 V720.31 H268.16 V720.6 H275.7 V715.52 H283.25 V715.52 H290.8 V720.31 H298.35 V723.7 H305.9 V725.39 H313.44 V734.97 H320.99 V736.66 H328.54 V723.7 H336.09 V722.57 H343.64 V721.72 H351.18 V716.37 H358.73 V734.12 H366.28 V744.27 H373.83 V749.06 H381.38 V745.96 H388.92 V750.47 H396.47 V757.79 H404.02 V771.32 H411.57 V739.48 H419.12 V740.6 H426.66 V752.16 H434.21 V745.68 H441.76 V746.8 H449.31 V748.21 H456.86 V748.21 H464.4 V720.31 H471.95 V720.03 H479.5 V717.22 H487.05 V722.29 H494.6 V712.71 H502.14 V716.93 H509.69 V731.02 H517.24 V724.54 H524.79 V727.64 H532.34 V747.09 H539.88 V768.5 H547.43 V788.51 H554.98 V813.31 H562.53 V838.39 H570.08 V825.14 H577.62 V852.76 H585.17 V848.25 H592.72 V856.71 H600.27 V848.53 H607.82 V832.75 H615.36 V851.35 H622.91 V868.82 H630.46 V899.26 H638.01 V882.07 H645.56 V859.52 H653.1 V873.05 H660.65 V873.33 H668.2 V883.76 H675.75 V907.43 H683.3 V920.39 H690.84 V912.22 H698.39 V909.4 H705.94 V907.15 H713.49 V899.26 H721.04 V890.8 H728.58 V904.05 H736.13 V906.3 H743.68 V906.58 H751.23 V908.56 H758.78 V902.36 H766.32 V888.27 H773.87 V882.63 H781.42 V889.11 H788.97 V893.62 H796.52 V885.17 H804.06 V864.31 H811.61 V853.89 H819.16 V852.48 H826.71 V839.52 H834.26 V872.21 H841.8 V884.32 H849.35 V895.31 H856.9" fill="none" stroke="#4f9a3a" stroke-width="1.1" stroke-dasharray="1.3,1.3"/>
<path d="M102.1 699.18 H109.65 V759.2 H117.2 V798.37 H124.74 V784.28 H132.29 V768.22 H139.84 V740.6 H147.39 V732.71 H154.94 V743.7 H162.48 V731.02 H170.03 V731.02 H177.58 V734.97 H185.13 V721.44 H192.68 V715.52 H200.22 V735.81 H207.77 V723.41 H215.32 V731.59 H222.87 V734.69 H230.42 V748.21 H237.96 V731.59 H245.51 V756.1 H253.06 V741.17 H260.61 V733.56 H268.16 V730.46 H275.7 V737.5 H283.25 V727.36 H290.8 V742.01 H298.35 V742.86 H305.9 V726.51 H313.44 V751.31 H320.99 V760.05 H328.54 V740.6 H336.09 V726.51 H343.64 V731.02 H351.18 V720.31 H358.73 V753.85 H366.28 V763.15 H373.83 V768.5 H381.38 V758.64 H388.92 V770.19 H396.47 V786.54 H404.02 V784.85 H411.57 V750.47 H419.12 V758.64 H426.66 V772.45 H434.21 V766.53 H441.76 V769.07 H449.31 V770.76 H456.86 V764.28 H464.4 V727.36 H471.95 V727.36 H479.5 V725.67 H487.05 V747.09 H494.6 V732.15 H502.14 V723.41 H509.69 V739.48 H517.24 V736.94 H524.79 V745.11 H532.34 V758.64 H539.88 V791.33 H547.43 V808.8 H554.98 V824.3 H562.53 V865.44 H570.08 V841.49 H577.62 V858.96 H585.17 V864.03 H592.72 V875.3 H600.27 V857.55 H607.82 V846.84 H615.36 V868.54 H622.91 V876.71 H630.46 V905.46 H638.01 V891.09 H645.56 V871.08 H653.1 V887.14 H660.65 V882.63 H668.2 V895.03 H675.75 V918.42 H683.3 V922.65 H690.84 V914.76 H698.39 V912.5 H705.94 V912.22 H713.49 V906.58 H721.04 V891.37 H728.58 V909.4 H736.13 V915.6 H743.68 V915.6 H751.23 V911.66 H758.78 V911.38 H766.32 V893.62 H773.87 V892.78 H781.42 V900.1 H788.97 V900.67 H796.52 V882.07 H804.06 V863.19 H811.61 V850.79 H819.16 V852.48 H826.71 V839.52 H834.26 V880.94 H841.8 V890.52 H849.35 V903.2 H856.9" fill="none" stroke="#cc9dd8" stroke-width="1"/>
</g>
<text x="100.6" y="956.15" font-size="8.6" fill="#2a3f5f" text-anchor="end" textLength="4.85" lengthAdjust="spacingAndGlyphs">0</text>
<text x="100.6" y="899.79" font-size="8.6" fill="#2a3f5f" text-anchor="end" textLength="12.7" lengthAdjust="spacingAndGlyphs">0.2</text>
<text x="100.6" y="843.43" font-size="8.6" fill="#2a3f5f" text-anchor="end" textLength="12.7" lengthAdjust="spacingAndGlyphs">0.4</text>
<text x="100.6" y="787.07" font-size="8.6" fill="#2a3f5f" text-anchor="end" textLength="12.7" lengthAdjust="spacingAndGlyphs">0.6</text>
<text x="100.6" y="730.71" font-size="8.6" fill="#2a3f5f" text-anchor="end" textLength="12.7" lengthAdjust="spacingAndGlyphs">0.8</text>
<text x="100.6" y="674.35" font-size="8.6" fill="#2a3f5f" text-anchor="end" textLength="4.85" lengthAdjust="spacingAndGlyphs">1</text>
<text x="102.1" y="962.1" font-size="8.6" fill="#2a3f5f" text-anchor="middle" textLength="4.85" lengthAdjust="spacingAndGlyphs">0</text>
<text x="253.06" y="962.1" font-size="8.6" fill="#2a3f5f" text-anchor="middle" textLength="9.7" lengthAdjust="spacingAndGlyphs">20</text>
<text x="404.02" y="962.1" font-size="8.6" fill="#2a3f5f" text-anchor="middle" textLength="9.7" lengthAdjust="spacingAndGlyphs">40</text>
<text x="554.98" y="962.1" font-size="8.6" fill="#2a3f5f" text-anchor="middle" textLength="9.7" lengthAdjust="spacingAndGlyphs">60</text>
<text x="705.94" y="962.1" font-size="8.6" fill="#2a3f5f" text-anchor="middle" textLength="9.7" lengthAdjust="spacingAndGlyphs">80</text>
<text x="856.9" y="962.1" font-size="8.6" fill="#2a3f5f" text-anchor="middle" textLength="14.55" lengthAdjust="spacingAndGlyphs">100</text>
<text x="479.5" y="979.9" font-size="10" fill="#2a3f5f" text-anchor="middle" textLength="23.3" lengthAdjust="spacingAndGlyphs">Time</text>
<text x="91.3" y="651.9" font-size="11.33" fill="#2a3f5f" textLength="70.4" lengthAdjust="spacingAndGlyphs">Market Price</text>
<text transform="translate(75.4,809.1) rotate(-90)" font-size="10" fill="#2a3f5f" text-anchor="middle" textLength="28.8" lengthAdjust="spacingAndGlyphs">Result</text>
<line x1="105.3" y1="1020.8" x2="124.8" y2="1020.8" stroke="#000" stroke-width="2.67"/>
<text x="128.7" y="1024.1" font-size="8.7" fill="#2a3f5f" textLength="49.4" lengthAdjust="spacingAndGlyphs">Market price</text>
<line x1="185.3" y1="1021.2" x2="204.9" y2="1021.2" stroke="#f09235" stroke-width="3.5"/>
<text x="208.1" y="1024.1" font-size="8.7" fill="#2a3f5f" textLength="68.3" lengthAdjust="spacingAndGlyphs">Upward pressure</text>
<line x1="283.5" y1="1021.2" x2="304" y2="1021.2" stroke="#468ef8" stroke-width="3.5"/>
<text x="306.5" y="1024.1" font-size="8.7" fill="#2a3f5f" textLength="79.8" lengthAdjust="spacingAndGlyphs">Downward pressure</text>
<line x1="393" y1="1020.8" x2="412.7" y2="1020.8" stroke="#ef553b" stroke-opacity="0.8" stroke-width="1"/>
<text x="416.2" y="1024.1" font-size="8.7" fill="#2a3f5f" textLength="68.9" lengthAdjust="spacingAndGlyphs">Election outcome</text>
<line x1="492.3" y1="1020.8" x2="511.6" y2="1020.8" stroke="#4f9a3a" stroke-width="1.1" stroke-dasharray="1.3,1.3"/>
<text x="515.3" y="1024.1" font-size="8.7" fill="#2a3f5f" textLength="103.1" lengthAdjust="spacingAndGlyphs">Average market valuation</text>
<line x1="626.4" y1="1020.8" x2="645.3" y2="1020.8" stroke="#cc9dd8" stroke-width="1"/>
<text x="649.8" y="1024.1" font-size="8.7" fill="#2a3f5f" textLength="142.9" lengthAdjust="spacingAndGlyphs">Weighted average market valuation</text>
<line x1="253.06" y1="1082.8" x2="253.06" y2="1370" stroke="#ebf0f8" stroke-width="1"/>
<line x1="404.02" y1="1082.8" x2="404.02" y2="1370" stroke="#ebf0f8" stroke-width="1"/>
<line x1="554.98" y1="1082.8" x2="554.98" y2="1370" stroke="#ebf0f8" stroke-width="1"/>
<line x1="705.94" y1="1082.8" x2="705.94" y2="1370" stroke="#ebf0f8" stroke-width="1"/>
<line x1="102.1" y1="1118.44" x2="856.9" y2="1118.44" stroke="#ebf0f8" stroke-width="1"/>
<line x1="102.1" y1="1188.47" x2="856.9" y2="1188.47" stroke="#ebf0f8" stroke-width="1"/>
<line x1="102.1" y1="1258.5" x2="856.9" y2="1258.5" stroke="#ebf0f8" stroke-width="1.33"/>
<line x1="102.1" y1="1328.53" x2="856.9" y2="1328.53" stroke="#ebf0f8" stroke-width="1"/>
<line x1="102.1" y1="1082.8" x2="102.1" y2="1370" stroke="#ebf0f8" stroke-width="1.33"/>
<path d="M102.1 1258.5 H109.65 V1258.5 H117.2 V1183.29 H124.74 V1122.5 H132.29 V1125.58 H139.84 V1125.3 H147.39 V1126.28 H154.94 V1124.6 H162.48 V1125.58 H170.03 V1126 H177.58 V1114.66 H185.13 V1119 H192.68 V1125.72 H200.22 V1126.42 H207.77 V1119 H215.32 V1122.5 H222.87 V1131.19 H230.42 V1134.69 H237.96 V1124.46 H245.51 V1121.24 H253.06 V1115.22 H260.61 V1133.29 H268.16 V1130.77 H275.7 V1129.64 H283.25 V1115.22 H290.8 V1115.64 H298.35 V1125.72 H305.9 V1122.36 H313.44 V1130.77 H320.99 V1133.15 H328.54 V1121.38 H336.09 V1127.26 H343.64 V1130.77 H351.18 V1131.75 H358.73 V1135.25 H366.28 V1127.26 H373.83 V1124.46 H381.38 V1133.85 H388.92 V1115.22 H396.47 V1121.38 H404.02 V1119.98 H411.57 V1125.3 H419.12 V1132.31 H426.66 V1131.75 H434.21 V1123.76 H441.76 V1122.08 H449.31 V1115.64 H456.86 V1118.44 H464.4 V1126.84 H471.95 V1123.2 H479.5 V1132.73 H487.05 V1130.21 H494.6 V1095.89 H502.14 V1105.55 H509.69 V1130.35 H517.24 V1130.35 H524.79 V1126.56 H532.34 V1114.94 H539.88 V1126.56 H547.43 V1118.16 H554.98 V1120.54 H562.53 V1125.44 H570.08 V1128.8 H577.62 V1124.6 H585.17 V1134.13 H592.72 V1136.23 H600.27 V1131.61 H607.82 V1141.13 H615.36 V1130.06 H622.91 V1112.28 H630.46 V1134.97 H638.01 V1126.7 H645.56 V1123.9 H653.1 V1129.64 H660.65 V1119.7 H668.2 V1117.74 H675.75 V1108.22 H683.3 V1123.48 H690.84 V1136.23 H698.39 V1115.22 H705.94 V1107.38 H713.49 V1114.38 H721.04 V1124.6 H728.58 V1132.03 H736.13 V1117.74 H743.68 V1130.91 H751.23 V1111.16 H758.78 V1121.8 H766.32 V1115.22 H773.87 V1104.85 H781.42 V1113.12 H788.97 V1125.86 H796.52 V1113.54 H804.06 V1127.54 H811.61 V1135.81 H819.16 V1134.97 H826.71 V1138.33 H834.26 V1127.54 H841.8 V1117.74 H849.35 V1133.71 H856.9 V1134.97" fill="none" stroke="#ef3b2b" stroke-width="1.4"/>
<path d="M102.1 1117.32 H109.65 V1221.8 H117.2 V1272.23 H124.74 V1242.81 H132.29 V1214.24 H139.84 V1178.25 H147.39 V1218.58 H154.94 V1247.72 H162.48 V1217.04 H170.03 V1225.31 H177.58 V1267.32 H185.13 V1232.31 H192.68 V1233.57 H200.22 V1273.49 H207.77 V1252.9 H215.32 V1283.01 H222.87 V1287.07 H230.42 V1281.75 H237.96 V1237.35 H245.51 V1286.65 H253.06 V1265.22 H260.61 V1230.35 H268.16 V1240.57 H275.7 V1244.77 H283.25 V1254.58 H290.8 V1272.51 H298.35 V1278.11 H305.9 V1246.73 H313.44 V1286.65 H320.99 V1274.47 H328.54 V1233.85 H336.09 V1242.95 H343.64 V1255 H351.18 V1234.69 H358.73 V1307.38 H366.28 V1274.47 H373.83 V1285.53 H381.38 V1282.87 H388.92 V1269.84 H396.47 V1293.23 H404.02 V1303.46 H411.57 V1215.92 H419.12 V1233.85 H426.66 V1264.8 H434.21 V1258.08 H441.76 V1251.36 H449.31 V1258.92 H456.86 V1256.68 H464.4 V1200.24 H471.95 V1213.12 H479.5 V1233.85 H487.05 V1261.3 H494.6 V1247.16 H502.14 V1240.99 H509.69 V1270.97 H517.24 V1280.77 H524.79 V1273.49 H532.34 V1291.27 H539.88 V1316.76 H547.43 V1320.27 H554.98 V1332.59 H562.53 V1355.28 H570.08 V1305.84 H577.62 V1331.75 H585.17 V1297.58 H592.72 V1310.74 H600.27 V1278.25 H607.82 V1240.85 H615.36 V1283.99 H622.91 V1285.25 H630.46 V1331.75 H638.01 V1270.83 H645.56 V1244.07 H653.1 V1262.56 H660.65 V1270.83 H668.2 V1280.35 H675.75 V1320.27 H683.3 V1320.27 H690.84 V1292.25 H698.39 V1260.6 H705.94 V1252.34 H713.49 V1262.56 H721.04 V1248.14 H728.58 V1261.86 H736.13 V1279.93 H743.68 V1253.6 H751.23 V1255.14 H758.78 V1254.44 H766.32 V1194.63 H773.87 V1225.59 H781.42 V1272.09 H788.97 V1265.92 H796.52 V1241.27 H804.06 V1195.89 H811.61 V1214.38 H819.16 V1222.64 H826.71 V1219.42 H834.26 V1288.89 H841.8 V1280.49 H849.35 V1326.85" fill="none" stroke="#1212f5" stroke-width="1.4" stroke-dasharray="2,2"/>
<text x="100.6" y="1121.79" font-size="8.6" fill="#2a3f5f" text-anchor="end" textLength="19.15" lengthAdjust="spacingAndGlyphs">100k</text>
<text x="100.6" y="1191.82" font-size="8.6" fill="#2a3f5f" text-anchor="end" textLength="14.3" lengthAdjust="spacingAndGlyphs">50k</text>
<text x="100.6" y="1261.85" font-size="8.6" fill="#2a3f5f" text-anchor="end" textLength="4.85" lengthAdjust="spacingAndGlyphs">0</text>
<text x="100.6" y="1331.88" font-size="8.6" fill="#2a3f5f" text-anchor="end" textLength="20.3" lengthAdjust="spacingAndGlyphs">&#8722;50k</text>
<text x="102.1" y="1379.3" font-size="8.6" fill="#2a3f5f" text-anchor="middle" textLength="4.85" lengthAdjust="spacingAndGlyphs">0</text>
<text x="253.06" y="1379.3" font-size="8.6" fill="#2a3f5f" text-anchor="middle" textLength="9.7" lengthAdjust="spacingAndGlyphs">20</text>
<text x="404.02" y="1379.3" font-size="8.6" fill="#2a3f5f" text-anchor="middle" textLength="9.7" lengthAdjust="spacingAndGlyphs">40</text>
<text x="554.98" y="1379.3" font-size="8.6" fill="#2a3f5f" text-anchor="middle" textLength="9.7" lengthAdjust="spacingAndGlyphs">60</text>
<text x="705.94" y="1379.3" font-size="8.6" fill="#2a3f5f" text-anchor="middle" textLength="9.7" lengthAdjust="spacingAndGlyphs">80</text>
<text x="856.9" y="1379.3" font-size="8.6" fill="#2a3f5f" text-anchor="middle" textLength="14.55" lengthAdjust="spacingAndGlyphs">100</text>
<text x="479.5" y="1397.1" font-size="10" fill="#2a3f5f" text-anchor="middle" textLength="23.3" lengthAdjust="spacingAndGlyphs">Time</text>
<text x="91.3" y="1069.7" font-size="11.33" fill="#2a3f5f" textLength="172.5" lengthAdjust="spacingAndGlyphs">Contract Volume &amp; Net Supply</text>
<line x1="105.3" y1="1438" x2="124.8" y2="1438" stroke="#ef3b2b" stroke-width="1.4"/>
<text x="128.7" y="1441.3" font-size="8.7" fill="#2a3f5f" textLength="65" lengthAdjust="spacingAndGlyphs">No. of Contracts</text>
<line x1="200.7" y1="1438" x2="219.1" y2="1438" stroke="#1212f5" stroke-width="1.4" stroke-dasharray="2,2"/>
<text x="223.7" y="1441.3" font-size="8.7" fill="#2a3f5f" textLength="44.5" lengthAdjust="spacingAndGlyphs">Net Supply</text>
<line x1="253.06" y1="1500.3" x2="253.06" y2="1638" stroke="#ebf0f8" stroke-width="1"/>
<line x1="404.02" y1="1500.3" x2="404.02" y2="1638" stroke="#ebf0f8" stroke-width="1"/>
<line x1="554.98" y1="1500.3" x2="554.98" y2="1638" stroke="#ebf0f8" stroke-width="1"/>
<line x1="705.94" y1="1500.3" x2="705.94" y2="1638" stroke="#ebf0f8" stroke-width="1"/>
<line x1="102.1" y1="1515" x2="856.9" y2="1515" stroke="#ebf0f8" stroke-width="1.33"/>
<line x1="102.1" y1="1538.1" x2="856.9" y2="1538.1" stroke="#ebf0f8" stroke-width="1"/>
<line x1="102.1" y1="1561.2" x2="856.9" y2="1561.2" stroke="#ebf0f8" stroke-width="1"/>
<line x1="102.1" y1="1584.3" x2="856.9" y2="1584.3" stroke="#ebf0f8" stroke-width="1"/>
<line x1="102.1" y1="1607.4" x2="856.9" y2="1607.4" stroke="#ebf0f8" stroke-width="1"/>
<line x1="102.1" y1="1630.5" x2="856.9" y2="1630.5" stroke="#ebf0f8" stroke-width="1"/>
<line x1="102.1" y1="1500.3" x2="102.1" y2="1638" stroke="#ebf0f8" stroke-width="1.33"/>
<path d="M102.1 1515 V1515 H109.65 V1515 H117.2 V1517.77 H124.74 V1519.85 H132.29 V1528.86 H139.84 V1533.94 H147.39 V1538.1 H154.94 V1543.18 H162.48 V1547.8 H170.03 V1549.88 H177.58 V1552.88 H185.13 V1556.35 H192.68 V1558.89 H200.22 V1561.2 H207.77 V1559.58 H215.32 V1560.28 H222.87 V1562.12 H230.42 V1564.66 H237.96 V1566.05 H245.51 V1568.59 H253.06 V1572.52 H260.61 V1576.68 H268.16 V1580.6 H275.7 V1583.61 H283.25 V1585.45 H290.8 V1586.61 H298.35 V1587.53 H305.9 V1587.53 H313.44 V1588 H320.99 V1590.54 H328.54 V1594.23 H336.09 V1597.24 H343.64 V1601.16 H351.18 V1601.16 H358.73 V1598.16 H366.28 V1597.24 H373.83 V1595.85 H381.38 V1594 H388.92 V1591.92 H396.47 V1590.08 H404.02 V1594.23 H411.57 V1595.85 H419.12 V1598.16 H426.66 V1599.78 H434.21 V1600.47 H441.76 V1601.62 H449.31 V1603.24 H456.86 V1609.25 H464.4 V1615.02 H471.95 V1620.57 H479.5 V1624.72 H487.05 V1627.5 H494.6 V1629.58 H502.14 V1629.58 H509.69 V1630.5 H517.24 V1630.5 H524.79 V1628.88 H532.34 V1623.57 H539.88 V1615.25 H547.43 V1608.32 H554.98 V1600.24 H562.53 V1593.54 H570.08 V1587.77 H577.62 V1582.45 H585.17 V1577.14 H592.72 V1575.52 H600.27 V1576.45 H607.82 V1574.37 H615.36 V1570.21 H622.91 V1564.9 H630.46 V1564.2 H638.01 V1565.36 H645.56 V1563.28 H653.1 V1560.74 H660.65 V1555.89 H668.2 V1549.88 H675.75 V1543.64 H683.3 V1538.79 H690.84 V1535.56 H698.39 V1533.48 H705.94 V1533.48 H713.49 V1534.63 H721.04 V1531.4 H728.58 V1528.4 H736.13 V1525.16 H743.68 V1523.09 H751.23 V1523.09 H758.78 V1525.16 H766.32 V1527.24 H773.87 V1527.24 H781.42 V1524.47 H788.97 V1527.24 H796.52 V1530.48 H804.06 V1532.09 H811.61 V1534.63 H819.16 V1537.41 H826.71 V1531.4 H834.26 V1525.16 H841.8 V1522.39 H849.35 V1518.93 H856.9 V1515 Z" fill="#808080" fill-opacity="0.4"/>
<path d="M109.65 1514.08 H117.2 V1515 H109.65 Z M117.2 1515 H124.74 V1517.31 H117.2 Z M124.74 1515 H132.29 V1519.16 H124.74 Z M132.29 1515 H139.84 V1522.62 H132.29 Z M139.84 1515 H147.39 V1519.85 H139.84 Z M147.39 1515 H154.94 V1518.7 H147.39 Z M154.94 1515 H162.48 V1519.16 H154.94 Z M162.48 1515 H170.03 V1519.16 H162.48 Z M170.03 1515 H177.58 V1515.92 H170.03 Z M177.58 1515 H185.13 V1517.31 H177.58 Z M185.13 1515 H192.68 V1516.62 H185.13 Z M192.68 1515 H200.22 V1516.62 H192.68 Z M200.22 1515 H207.77 V1516.39 H200.22 Z M207.77 1513.38 H215.32 V1515 H207.77 Z M215.32 1514.55 H222.87 V1515.45 H215.32 Z M222.87 1515 H230.42 V1515.92 H222.87 Z M230.42 1515 H237.96 V1517.77 H230.42 Z M237.96 1515 H245.51 V1515.92 H237.96 Z M245.51 1515 H253.06 V1516.62 H245.51 Z M253.06 1515 H260.61 V1517.77 H253.06 Z M260.61 1515 H268.16 V1518.23 H260.61 Z M268.16 1515 H275.7 V1517.31 H268.16 Z M275.7 1515 H283.25 V1516.62 H275.7 Z M283.25 1515 H290.8 V1515.92 H283.25 Z M290.8 1514.55 H298.35 V1515.45 H290.8 Z M298.35 1514.43 H305.9 V1515.33 H298.35 Z M305.9 1514.43 H313.44 V1515.33 H305.9 Z M313.44 1514.43 H320.99 V1515.33 H313.44 Z M320.99 1515 H328.54 V1516.62 H320.99 Z M328.54 1515 H336.09 V1518.23 H328.54 Z M336.09 1515 H343.64 V1516.62 H336.09 Z M343.64 1515 H351.18 V1517.77 H343.64 Z M351.18 1514.43 H358.73 V1515.33 H351.18 Z M358.73 1512.46 H366.28 V1515 H358.73 Z M366.28 1513.85 H373.83 V1515 H366.28 Z M373.83 1513.85 H381.38 V1515 H373.83 Z M381.38 1512.92 H388.92 V1515 H381.38 Z M388.92 1512.69 H396.47 V1515 H388.92 Z M396.47 1513.38 H404.02 V1515 H396.47 Z M404.02 1515 H411.57 V1518.23 H404.02 Z M411.57 1515 H419.12 V1516.39 H411.57 Z M419.12 1514.55 H426.66 V1515.45 H419.12 Z M426.66 1515 H434.21 V1516.39 H426.66 Z M434.21 1514.55 H441.76 V1515.45 H434.21 Z M441.76 1515 H449.31 V1515.92 H441.76 Z M449.31 1515 H456.86 V1515.92 H449.31 Z M456.86 1515 H464.4 V1520.31 H456.86 Z M464.4 1515 H471.95 V1519.85 H464.4 Z M471.95 1515 H479.5 V1518.7 H471.95 Z M479.5 1515 H487.05 V1517.54 H479.5 Z M487.05 1515 H494.6 V1516.62 H487.05 Z M494.6 1515 H502.14 V1515.92 H494.6 Z M502.14 1513.38 H509.69 V1515 H502.14 Z M509.69 1515 H517.24 V1515.92 H509.69 Z M517.24 1514.55 H524.79 V1515.45 H517.24 Z M524.79 1511.77 H532.34 V1515 H524.79 Z M532.34 1508.76 H539.88 V1515 H532.34 Z M539.88 1507.61 H547.43 V1515 H539.88 Z M547.43 1506.91 H554.98 V1515 H547.43 Z M554.98 1506.91 H562.53 V1515 H554.98 Z M562.53 1509.69 H570.08 V1515 H562.53 Z M570.08 1508.07 H577.62 V1515 H570.08 Z M577.62 1510.15 H585.17 V1515 H577.62 Z M585.17 1508.76 H592.72 V1515 H585.17 Z M592.72 1512.23 H600.27 V1515 H592.72 Z M600.27 1514.08 H607.82 V1515 H600.27 Z M607.82 1512.23 H615.36 V1515 H607.82 Z M615.36 1510.84 H622.91 V1515 H615.36 Z M622.91 1508.76 H630.46 V1515 H622.91 Z M630.46 1514.08 H638.01 V1515 H630.46 Z M638.01 1515 H645.56 V1515.92 H638.01 Z M645.56 1513.38 H653.1 V1515 H645.56 Z M653.1 1512.23 H660.65 V1515 H653.1 Z M660.65 1508.07 H668.2 V1515 H660.65 Z M668.2 1508.76 H675.75 V1515 H668.2 Z M675.75 1509.69 H683.3 V1515 H675.75 Z M683.3 1510.38 H690.84 V1515 H683.3 Z M690.84 1511.77 H698.39 V1515 H690.84 Z M698.39 1513.38 H705.94 V1515 H698.39 Z M705.94 1514.55 H713.49 V1515.45 H705.94 Z M713.49 1514.55 H721.04 V1515.45 H713.49 Z M721.04 1512.23 H728.58 V1515 H721.04 Z M728.58 1511.77 H736.13 V1515 H728.58 Z M736.13 1512.23 H743.68 V1515 H736.13 Z M743.68 1512.46 H751.23 V1515 H743.68 Z M751.23 1514.55 H758.78 V1515.45 H751.23 Z M758.78 1515 H766.32 V1515.92 H758.78 Z M766.32 1515 H773.87 V1515.92 H766.32 Z M773.87 1515 H781.42 V1515.92 H773.87 Z M781.42 1512.23 H788.97 V1515 H781.42 Z M788.97 1515 H796.52 V1516.62 H788.97 Z M796.52 1515 H804.06 V1517.08 H796.52 Z M804.06 1515 H811.61 V1516.62 H804.06 Z M811.61 1515 H819.16 V1516.62 H811.61 Z M819.16 1515 H826.71 V1517.08 H819.16 Z M826.71 1510.15 H834.26 V1515 H826.71 Z M834.26 1508.07 H841.8 V1515 H834.26 Z M841.8 1510.84 H849.35 V1515 H841.8 Z M849.35 1512.46 H856.9 V1515 H849.35 Z " fill="#000"/>
<text x="100.6" y="1518.35" font-size="8.6" fill="#2a3f5f" text-anchor="end" textLength="4.85" lengthAdjust="spacingAndGlyphs">0</text>
<text x="100.6" y="1541.45" font-size="8.6" fill="#2a3f5f" text-anchor="end" textLength="10.85" lengthAdjust="spacingAndGlyphs">&#8722;1</text>
<text x="100.6" y="1564.55" font-size="8.6" fill="#2a3f5f" text-anchor="end" textLength="10.85" lengthAdjust="spacingAndGlyphs">&#8722;2</text>
<text x="100.6" y="1587.65" font-size="8.6" fill="#2a3f5f" text-anchor="end" textLength="10.85" lengthAdjust="spacingAndGlyphs">&#8722;3</text>
<text x="100.6" y="1610.75" font-size="8.6" fill="#2a3f5f" text-anchor="end" textLength="10.85" lengthAdjust="spacingAndGlyphs">&#8722;4</text>
<text x="100.6" y="1633.85" font-size="8.6" fill="#2a3f5f" text-anchor="end" textLength="10.85" lengthAdjust="spacingAndGlyphs">&#8722;5</text>
<text x="102.1" y="1647.4" font-size="8.6" fill="#2a3f5f" text-anchor="middle" textLength="4.85" lengthAdjust="spacingAndGlyphs">0</text>
<text x="253.06" y="1647.4" font-size="8.6" fill="#2a3f5f" text-anchor="middle" textLength="9.7" lengthAdjust="spacingAndGlyphs">20</text>
<text x="404.02" y="1647.4" font-size="8.6" fill="#2a3f5f" text-anchor="middle" textLength="9.7" lengthAdjust="spacingAndGlyphs">40</text>
<text x="554.98" y="1647.4" font-size="8.6" fill="#2a3f5f" text-anchor="middle" textLength="9.7" lengthAdjust="spacingAndGlyphs">60</text>
<text x="705.94" y="1647.4" font-size="8.6" fill="#2a3f5f" text-anchor="middle" textLength="9.7" lengthAdjust="spacingAndGlyphs">80</text>
<text x="856.9" y="1647.4" font-size="8.6" fill="#2a3f5f" text-anchor="middle" textLength="14.55" lengthAdjust="spacingAndGlyphs">100</text>
<text x="479.5" y="1665.3" font-size="10" fill="#2a3f5f" text-anchor="middle" textLength="23.3" lengthAdjust="spacingAndGlyphs">Time</text>
<text x="91.3" y="1486.4" font-size="11.33" fill="#2a3f5f" textLength="313.1" lengthAdjust="spacingAndGlyphs">Difference between Market Price and Election Outcome</text>
<text transform="translate(77,1568.9) rotate(-90)" font-size="10" fill="#2a3f5f" text-anchor="middle" textLength="28.8" lengthAdjust="spacingAndGlyphs">Result</text>
<path d="M757.2 1066.6 Q757.2 1065.8 758 1065.8 H760.2 L760.8 1063.9 H765 L765.6 1065.8 H768.2 Q769 1065.8 769 1066.6 V1072.3 Q769 1073.1 768.2 1073.1 H758 Q757.2 1073.1 757.2 1072.3 Z" fill="#c4c4c4"/>
<circle cx="762.6" cy="1069.1" r="2.9" fill="#fff"/>
<circle cx="762.6" cy="1069.1" r="1.7" fill="#c4c4c4"/>
<circle cx="784.1" cy="1067.7" r="4.1" fill="none" stroke="#5a5a5a" stroke-width="1.7"/>
<rect x="782.3" y="1065.9" width="3.6" height="3.6" fill="#5a5a5a"/>
<path d="M782.3 1067.7 H785.9 M784.1 1065.9 V1069.5" stroke="#9a9a9a" stroke-width="0.4"/>
<line x1="787.3" y1="1070.9" x2="790.3" y2="1073.6" stroke="#5a5a5a" stroke-width="1.7" stroke-linecap="round"/>
<path d="M802.5 1063.8 V1073.2 M798 1068.5 H807" stroke="#c4c4c4" stroke-width="1.1"/>
<path d="M800.9 1064.8 L802.5 1062.9 L804.1 1064.8 Z M800.9 1072.2 L802.5 1074.1 L804.1 1072.2 Z M798.3 1066.9 L796.6 1068.5 L798.3 1070.1 Z M806.7 1066.9 L808.4 1068.5 L806.7 1070.1 Z" fill="#c4c4c4"/>
<rect x="820.1" y="1063.6" width="10.4" height="10.4" fill="#c4c4c4"/>
<path d="M822.5 1068.8 H828.1 M825.3 1066 V1071.6" stroke="#fff" stroke-width="1.4"/>
<rect x="837.6" y="1063.6" width="10.4" height="10.4" fill="#c4c4c4"/>
<path d="M840 1068.8 H845.6" stroke="#fff" stroke-width="1.4"/>
<path d="M854.6 1066.2 V1063.8 H857 M862.8 1063.8 H865.3 V1066.2 M865.3 1071.4 V1073.8 H862.8 M857 1073.8 H854.6 V1071.4 M856.6 1065.8 L863.3 1071.8 M863.3 1065.8 L856.6 1071.8" stroke="#c4c4c4" stroke-width="0.8" fill="none"/>
<path d="M872.3 1068.8 L877.4 1064 L882.5 1068.8 H881 V1073 H878.5 V1070.3 H876.3 V1073 H873.8 V1068.8 Z" fill="#c4c4c4"/>
<rect x="893.9" y="1062.5" width="12" height="12" rx="1.8" fill="#000"/>
<rect x="895.9" y="1064.5" width="1.2" height="1.2" fill="#e44c6f"/>
<rect x="898.2" y="1064.5" width="1.2" height="1.2" fill="#a86cd0"/>
<rect x="900.5" y="1064.5" width="1.2" height="1.2" fill="#7c7cf0"/>
<rect x="902.8" y="1064.5" width="1.2" height="1.2" fill="#58c0d8"/>
<rect x="895.9" y="1068.6" width="1.2" height="4.4" fill="#fff"/>
<rect x="898.2" y="1067.2" width="1.2" height="5.8" fill="#fff"/>
<rect x="900.5" y="1068.6" width="1.2" height="4.4" fill="#fff"/>
<rect x="902.8" y="1067.2" width="1.2" height="5.8" fill="#fff"/>
<rect x="895.9" y="1066.6" width="1.2" height="1.1" fill="#e44c6f"/>
</svg>
</body></html>
